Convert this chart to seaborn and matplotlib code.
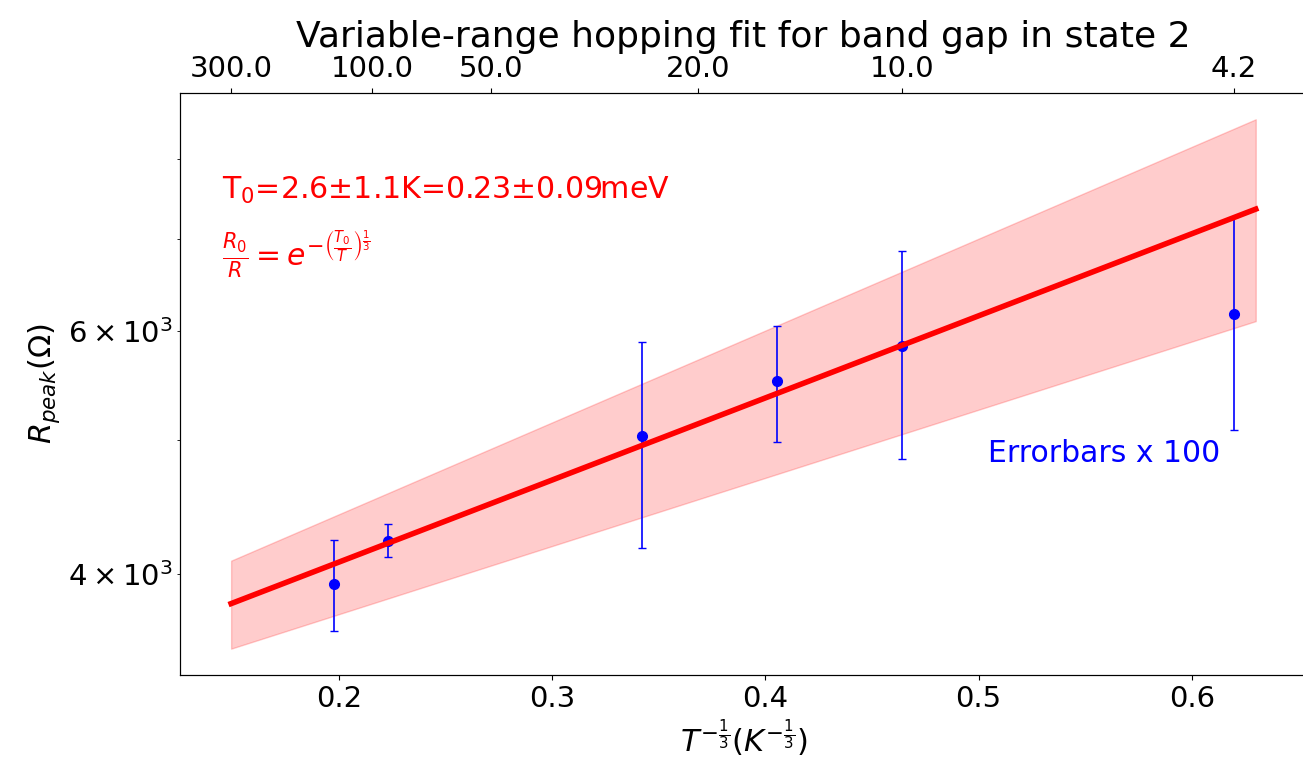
import numpy as np
import pandas as pd
import matplotlib
matplotlib.use("Agg")
import matplotlib.pyplot as plt
import seaborn as sns

# Data (temperatures in K, peak resistance in Ohm, errors already x100)
temps = [130.0, 90.0, 25.0, 15.0, 10.0, 4.2]
r_peak = [3934, 4227, 5036, 5521, 5852, 6173]
r_err = [300, 117, 860, 532, 1010, 1087]

# Fit line and confidence band endpoints (T = 300 K and T = 4.0 K)
fit_temps = [300.0, 4.0]
fit_r = [3805, 7357]
band_low = [3529, 6101]
band_high = [4088, 8549]

top_ticks_T = [300.0, 100.0, 50.0, 20.0, 10.0, 4.2]

x_data = np.array(temps) ** (-1.0 / 3.0)
x_fit = np.array(fit_temps) ** (-1.0 / 3.0)

fig = plt.figure(figsize=(13.03, 7.66), dpi=100)
ax = fig.add_axes([180 / 1303, 1 - 675 / 766, (1307 - 180) / 1303, (675 - 93) / 766])

ax.set_yscale("log")
ax.fill_between(x_fit, band_low, band_high, color="red", alpha=0.2)
fit_df = pd.DataFrame({"x": x_fit, "r": fit_r})
sns.lineplot(data=fit_df, x="x", y="r", color="red", linewidth=4, ax=ax, zorder=3)
ax.errorbar(x_data, r_peak, yerr=r_err, fmt="o", color="blue", capsize=3,
            markersize=7, elinewidth=1.2, zorder=2)
ax.set_xlim(0.1254, 0.6540)
ax.set_ylim(3377, 8933)

ax.tick_params(axis="both", which="both", labelsize=21)
ax.set_xlabel(r"$T^{-\frac{1}{3}}(K^{-\frac{1}{3}})$", fontsize=22)
ax.set_ylabel(r"$R_{peak}(\Omega)$", fontsize=22)

ax.text(0.037, 0.833, "T$_0$=2.6±1.1K=0.23±0.09meV", color="red", fontsize=21.6,
        transform=ax.transAxes, va="center")
ax.text(0.037, 0.722, r"$\frac{R_0}{R}=e^{-\left(\frac{T_0}{T}\right)^{\frac{1}{3}}}$",
        color="red", fontsize=21.5, transform=ax.transAxes, va="center")
ax.text(0.717, 0.381, "Errorbars x 100", color="blue", fontsize=21.5,
        transform=ax.transAxes, va="center")

ax2 = ax.twiny()
ax2.set_xlim(ax.get_xlim())
ax2.set_xticks(np.array(top_ticks_T) ** (-1.0 / 3.0))
ax2.set_xticklabels(["%.1f" % t for t in top_ticks_T])
ax2.tick_params(labelsize=21)
ax2.set_title("Variable-range hopping fit for band gap in state 2", fontsize=26)

fig.savefig("out.png", dpi=100)
